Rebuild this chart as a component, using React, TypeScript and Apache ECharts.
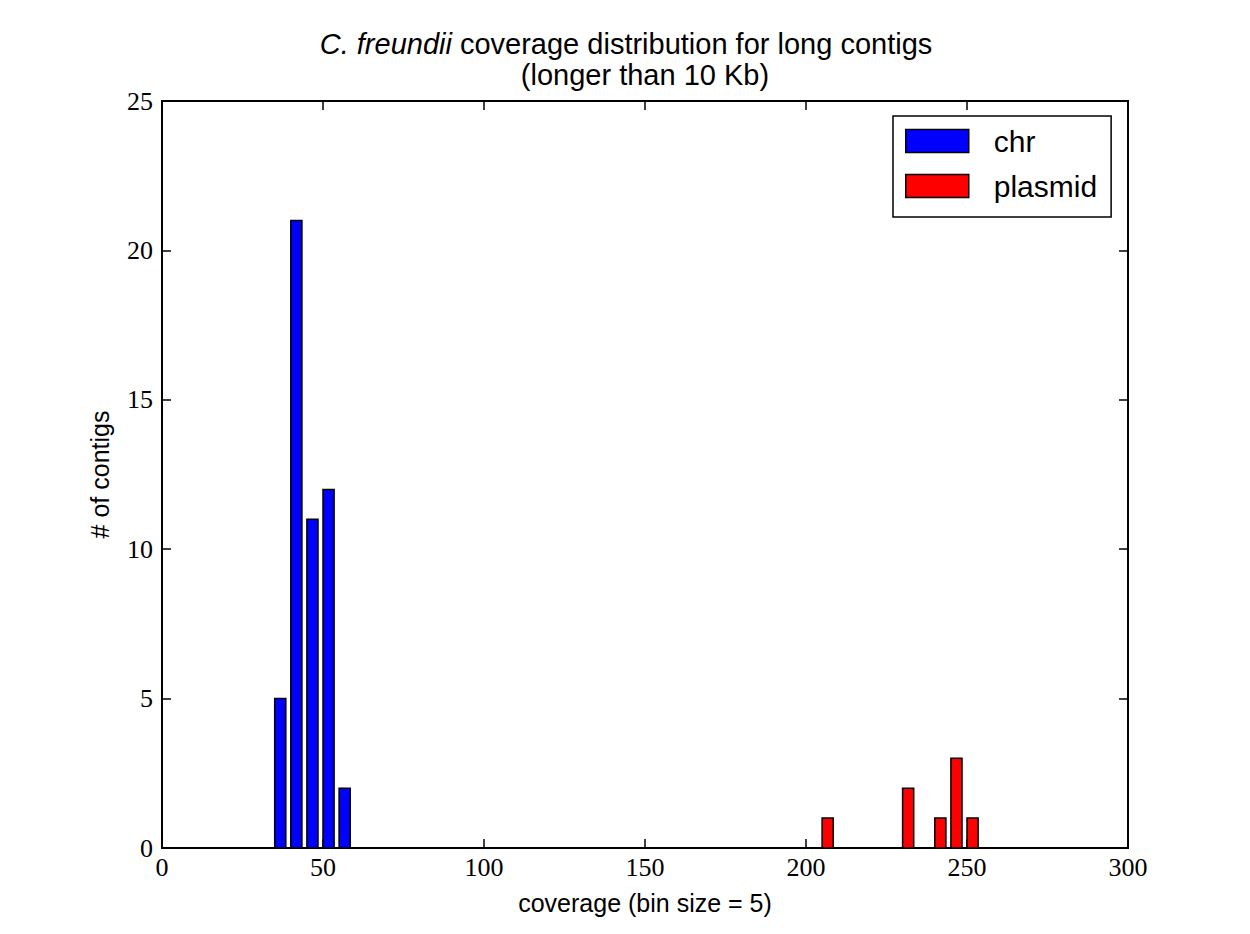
import React, { useEffect, useRef } from "react";
import * as echarts from "echarts";

const chrBins = [35, 40, 45, 50, 55];
const chrCounts = [5, 21, 11, 12, 2];
const plasmidBins = [205, 230, 240, 245, 250];
const plasmidCounts = [1, 2, 1, 3, 1];
const seriesNames = ["chr", "plasmid"];
const seriesColors = ["#0000ff", "#ff0000"];
const titleLine1 = "C. freundii";
const titleLine1Rest = " coverage distribution for long contigs";
const titleLine2 = "(longer than 10 Kb)";
const xName = "coverage (bin size = 5)";
const yName = "# of contigs";

const BAR_W = 3.45;
const SANS = "Liberation Sans, Arial, Helvetica, sans-serif";
const SERIF = "Liberation Serif, Times New Roman, serif";

export default function App() {
  const ref = useRef<HTMLDivElement>(null);
  useEffect(() => {
    document.body.style.margin = "0";
    const chart = echarts.init(ref.current!, null, { renderer: "svg" });
    const makeRender = (color: string) => (params: any, api: any) => {
      const x = api.value(0);
      const y = api.value(1);
      const p0 = api.coord([x, y]);
      const p1 = api.coord([x + BAR_W, 0]);
      return {
        type: "rect",
        shape: { x: p0[0], y: p0[1], width: p1[0] - p0[0], height: p1[1] - p0[1] },
        style: { fill: color, stroke: "#000", lineWidth: 1.5 },
      };
    };
    const tickStyle = { show: true, inside: true, length: 9, lineStyle: { color: "#000", width: 1.5 } };
    chart.setOption({
      animation: false,
      backgroundColor: "#fff",
      title: [
        {
          text: "{i|" + titleLine1 + "}" + titleLine1Rest,
          left: 626,
          textAlign: "center",
          top: 31,
          textStyle: {
            fontFamily: SANS,
            fontSize: 29,
            fontWeight: "normal",
            color: "#000",
            lineHeight: 26,
            rich: { i: { fontStyle: "italic", fontFamily: SANS, fontSize: 29, color: "#000", lineHeight: 26 } },
          },
          padding: 0,
        },
        {
          text: titleLine2,
          left: 645,
          textAlign: "center",
          top: 62,
          textStyle: { fontFamily: SANS, fontSize: 29, fontWeight: "normal", color: "#000", lineHeight: 26 },
          padding: 0,
        },
      ],
      legend: {
        orient: "vertical",
        left: 893,
        top: 116,
        padding: [10, 14, 16, 12],
        itemWidth: 63,
        itemHeight: 23,
        itemGap: 15,
        borderColor: "#000",
        borderWidth: 1.5,
        icon: "rect",
        textStyle: { fontFamily: SANS, fontSize: 30, color: "#000", lineHeight: 29, padding: [0, 0, 0, 20] },
        data: seriesNames.map((n, i) => ({
          name: n,
          itemStyle: { color: seriesColors[i], borderColor: "#000", borderWidth: 1.5 },
        })),
      },
      grid: { left: 162, top: 101, width: 966, height: 747, show: true, borderColor: "#000", borderWidth: 2, outerBoundsMode: "none" },
      xAxis: [
        {
          type: "value",
          min: 0,
          max: 300,
          interval: 50,
          position: "bottom",
          name: xName,
          nameLocation: "middle",
          nameGap: 42,
          nameTextStyle: { fontFamily: SANS, fontSize: 25, color: "#000" },
          axisLine: { show: true, onZero: false, lineStyle: { color: "#000", width: 2 } },
          axisTick: tickStyle,
          axisLabel: { fontFamily: SERIF, fontSize: 26, color: "#000", margin: 6 },
          splitLine: { show: false },
        },
        {
          type: "value",
          min: 0,
          max: 300,
          interval: 50,
          position: "top",
          axisLine: { show: true, onZero: false, lineStyle: { color: "#000", width: 2 } },
          axisTick: tickStyle,
          axisLabel: { show: false },
          splitLine: { show: false },
        },
      ],
      yAxis: [
        {
          type: "value",
          min: 0,
          max: 25,
          interval: 5,
          position: "left",
          name: yName,
          nameLocation: "middle",
          nameGap: 50,
          nameTextStyle: { fontFamily: SANS, fontSize: 25, color: "#000" },
          axisLine: { show: true, onZero: false, lineStyle: { color: "#000", width: 2 } },
          axisTick: tickStyle,
          axisLabel: { fontFamily: SERIF, fontSize: 26, color: "#000", margin: 9 },
          splitLine: { show: false },
        },
        {
          type: "value",
          min: 0,
          max: 25,
          interval: 5,
          position: "right",
          axisLine: { show: true, onZero: false, lineStyle: { color: "#000", width: 2 } },
          axisTick: tickStyle,
          axisLabel: { show: false },
          splitLine: { show: false },
        },
      ],
      series: [
        {
          name: seriesNames[0],
          type: "custom",
          xAxisIndex: 0,
          yAxisIndex: 0,
          itemStyle: { color: seriesColors[0] },
          renderItem: makeRender(seriesColors[0]),
          encode: { x: 0, y: 1 },
          data: chrBins.map((b, i) => [b, chrCounts[i]]),
        },
        {
          name: seriesNames[1],
          type: "custom",
          xAxisIndex: 0,
          yAxisIndex: 0,
          itemStyle: { color: seriesColors[1] },
          renderItem: makeRender(seriesColors[1]),
          encode: { x: 0, y: 1 },
          data: plasmidBins.map((b, i) => [b, plasmidCounts[i]]),
        },
      ],
    });
    return () => chart.dispose();
  }, []);
  return <div ref={ref} style={{ width: 1250, height: 934 }} />;
}
